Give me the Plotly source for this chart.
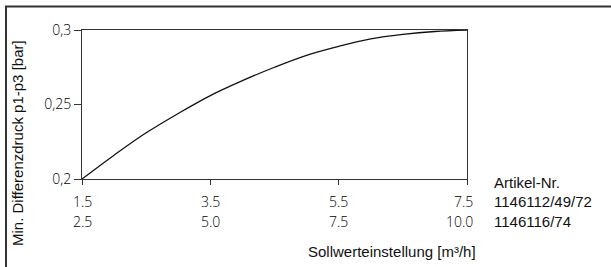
import plotly.graph_objects as go

# Data
flow_small = [1.5, 2.0, 2.5, 3.0, 3.5, 4.0, 4.5, 5.0, 5.5, 6.0, 6.5, 7.0, 7.5]
dp_min = [0.200, 0.216, 0.231, 0.244, 0.256, 0.266, 0.275, 0.283, 0.289, 0.294, 0.297, 0.299, 0.300]

x_tickvals = [1.5, 3.5, 5.5, 7.5]
x_ticklabels_row1 = ["1.5", "3.5", "5.5", "7.5"]
x_ticklabels_row2 = ["2.5", "5.0", "7.5", "10.0"]
y_tickvals = [0.2, 0.25, 0.3]
y_ticklabels = ["0,2", "0,25", "0,3"]
article_labels = ["Artikel-Nr.", "1146112/49/72", "1146116/74"]
x_title = "Sollwerteinstellung [m³/h]"
y_title = "Min. Differenzdruck p1-p3 [bar]"

W, H = 611, 267
# target pixel positions in the screenshot
PL, PR, PT, PB = 82, 467, 30, 179
pw, ph = PR - PL, PB - PT
L, T = PL, PT
R, B = W - L - pw, H - T - ph

def px_x(p):
    return (p - PL) / pw

def px_y(p):
    return 1 - (p - PT) / ph

thin = dict(family="Open Sans, Lato, Liberation Sans, sans-serif", size=14, color="#000", weight=300)
reg = dict(family="Liberation Sans, Arial, sans-serif", size=15, color="#111")

fig = go.Figure()
fig.add_trace(go.Scatter(x=flow_small, y=dp_min, mode="lines",
                         line=dict(color="#111", width=1.3, shape="spline"),
                         hoverinfo="skip", showlegend=False))

ann = []
last = len(x_tickvals) - 1
for i, (xv, a, b) in enumerate(zip(x_tickvals, x_ticklabels_row1, x_ticklabels_row2)):
    for txt, yp in ((a, 201), (b, 221)):
        if i == last:
            ann.append(dict(x=xv, xref="x", y=px_y(yp), yref="paper", text=txt,
                            showarrow=False, xanchor="right", yanchor="middle",
                            xshift=8, font=thin))
        else:
            ann.append(dict(x=xv, xref="x", y=px_y(yp), yref="paper", text=txt,
                            showarrow=False, xanchor="center", yanchor="middle",
                            font=thin))

for txt, yp in zip(article_labels, (182, 201, 221)):
    ann.append(dict(x=px_x(492), xref="paper", y=px_y(yp), yref="paper", text=txt,
                    showarrow=False, xanchor="left", yanchor="middle", font=reg))

ann.append(dict(x=px_x(478), xref="paper", y=px_y(251), yref="paper", text=x_title,
                showarrow=False, xanchor="right", yanchor="middle", font=reg))
ann.append(dict(x=px_x(17), xref="paper", y=px_y(143), yref="paper", text=y_title,
                showarrow=False, xanchor="center", yanchor="middle", textangle=-90, font=reg))

frame_path = "M {:.4f},{:.4f} L {:.4f},{:.4f} L {:.4f},{:.4f}".format(
    px_x(6), px_y(H), px_x(6), px_y(6.5), px_x(W), px_y(6.5))
shapes = [
    dict(type="path", xref="paper", yref="paper", path=frame_path,
         line=dict(color="#333", width=2)),
]

fig.update_layout(
    width=W, height=H,
    margin=dict(l=L, r=R, t=T, b=B, pad=0),
    paper_bgcolor="white", plot_bgcolor="white",
    annotations=ann, shapes=shapes,
    xaxis=dict(range=[1.5, 7.5], tickvals=x_tickvals, showticklabels=False,
               ticks="outside", ticklen=5, tickcolor="#333", tickwidth=1,
               showline=True, linecolor="#333", linewidth=1, mirror=True,
               showgrid=False, zeroline=False, fixedrange=True),
    yaxis=dict(range=[0.2, 0.3], tickvals=y_tickvals, ticktext=y_ticklabels,
               ticks="outside", ticklen=7, tickcolor="#333", tickwidth=1,
               tickfont=thin, showline=True, linecolor="#333", linewidth=1, mirror=True,
               showgrid=False, zeroline=False, fixedrange=True),
)

fig.write_html("out.html", config={"displayModeBar": False},
               post_script="document.body.style.margin='0';")
